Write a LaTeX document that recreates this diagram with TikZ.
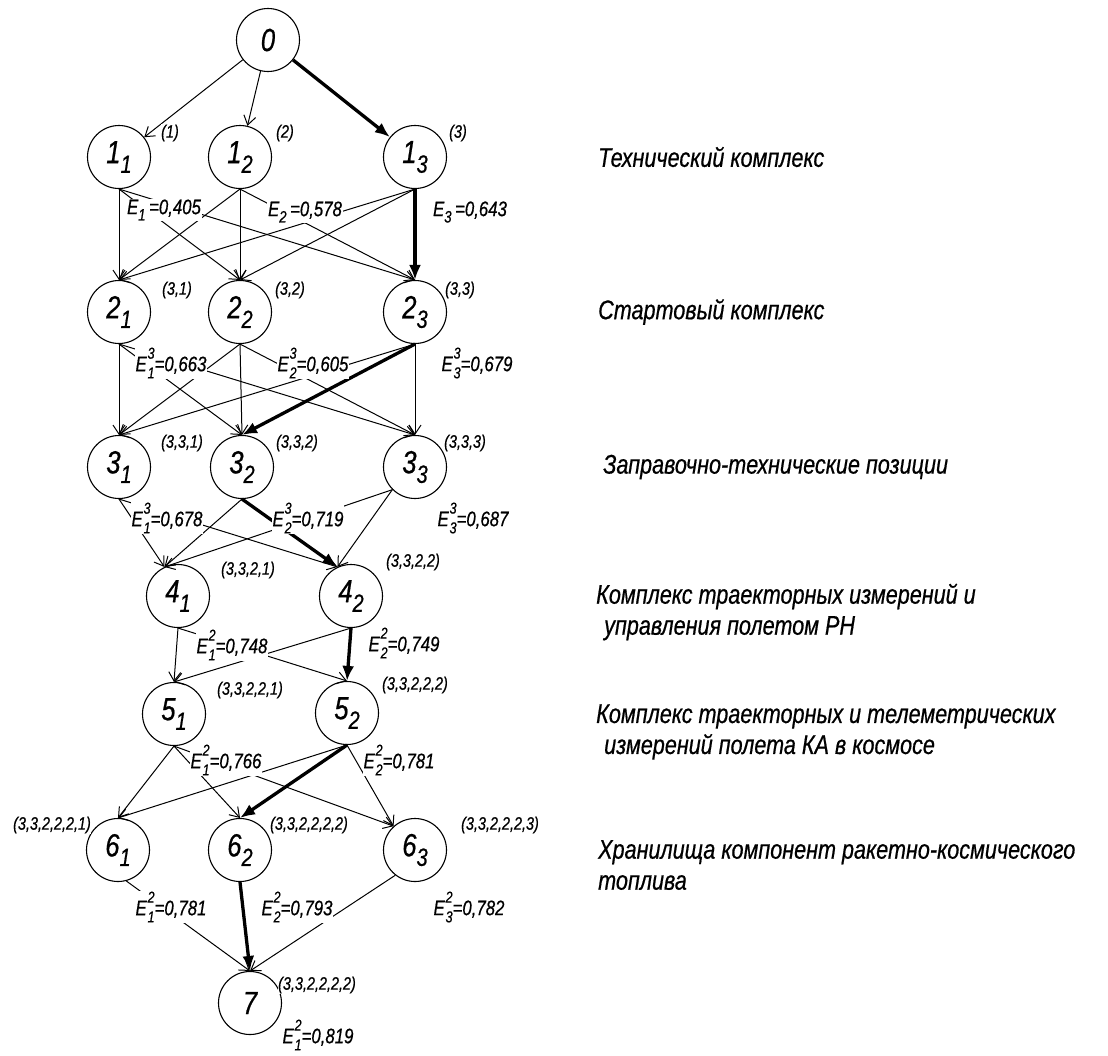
\documentclass[tikz,border=0pt]{standalone}
\usepackage{fontspec}
\usepackage{graphicx}
\setmainfont{Liberation Sans}
\newfontfamily\gost[FakeStretch=0.8,FakeBold=0.6]{Liberation Sans}
\usetikzlibrary{arrows.meta}
\newcommand{\nsub}[1]{\raisebox{-0.3em}{\scalebox{0.78}{#1}}}
\newcommand{\Eud}[2]{E\kern0.04em\rlap{\raisebox{0.6em}{\scalebox{0.75}{#1}}}\raisebox{-0.34em}{\scalebox{0.75}{#2}}}
\begin{document}
\begin{tikzpicture}[x=1pt,y=-1pt,
  vert/.style={circle,draw,line width=1.1pt,minimum size=63pt,inner sep=0pt,
    font=\gost\itshape\fontsize{32}{32}\selectfont},
  tup/.style={font=\gost\itshape\fontsize{18}{18}\selectfont,inner sep=0.5pt,fill=white},
  elab/.style={font=\gost\itshape\fontsize{21}{21}\selectfont,inner sep=1pt,fill=white},
  cat/.style={anchor=west,align=left,inner sep=0pt,
    font=\gost\itshape\fontsize{27}{31}\selectfont},
  edge/.style={line width=1pt,-{Straight Barb[length=9pt,width=12pt]}},
  best/.style={line width=3.3pt,-{Latex[length=15pt,width=12pt]}}
]
\useasboundingbox (0,0) rectangle (1108,1055);
% vertices
\node[vert] (n0) at (268,40) {0};
\node[vert] (n11) at (119,157) {1\nsub{1}};
\node[vert] (n12) at (240,157) {1\nsub{2}};
\node[vert] (n13) at (415,157) {1\nsub{3}};
\node[vert] (n21) at (119,312) {2\nsub{1}};
\node[vert] (n22) at (240,312) {2\nsub{2}};
\node[vert] (n23) at (415,312) {2\nsub{3}};
\node[vert] (n31) at (119,467) {3\nsub{1}};
\node[vert] (n32) at (242,467) {3\nsub{2}};
\node[vert] (n33) at (415,467) {3\nsub{3}};
\node[vert] (n41) at (178,596) {4\nsub{1}};
\node[vert] (n42) at (351,596) {4\nsub{2}};
\node[vert] (n51) at (174,714) {5\nsub{1}};
\node[vert] (n52) at (347,713) {5\nsub{2}};
\node[vert] (n61) at (118,850) {6\nsub{1}};
\node[vert] (n62) at (240,850) {6\nsub{2}};
\node[vert] (n63) at (415,850) {6\nsub{3}};
\node[vert] (n7) at (250,1003) {7};
% edges 0 -> 1
\draw[edge] (n0) -- (n11);
\draw[edge] (n0) -- (n12);
% 1 -> 2
\foreach \a in {n11,n12,n13}{\foreach \b in {n21,n22}{\draw[edge] (\a.south) -- (\b.north);}}
\draw[edge] (n11.south) -- (n23.north);
\draw[edge] (n12.south) -- (n23.north);
% 2 -> 3
\foreach \a in {n21,n22,n23}{\draw[edge] (\a.south) -- (n31.north);}
\draw[edge] (n21.south) -- (n32.north);
\draw[edge] (n22.south) -- (n32.north);
\foreach \a in {n21,n22,n23}{\draw[edge] (\a.south) -- (n33.north);}
% 3 -> 4
\draw[edge] (n31.south) -- (n41.115);
\draw[edge] (n32.south) -- (n41.115);
\draw[edge] (n33.-135) -- (n41.115);
\draw[edge] (n31.south) -- (n42.115);
\draw[edge] (n33.-135) -- (n42.115);
% 4 -> 5
\draw[edge] (n41.south) -- (n51.north);
\draw[edge] (n42.south) -- (n51.north);
\draw[edge] (n41.south) -- (n52.north);
% 5 -> 6
\draw[edge] (n51.south) -- (n61.north);
\draw[edge] (n52.south) -- (n61.north);
\draw[edge] (n51.south) -- (n62.north);
\draw[edge] (n51.south) -- (n63.132);
\draw[edge] (n52.south) -- (n63.132);
% 6 -> 7
\draw[edge] (n61.-75) -- (n7.north);
\draw[edge] (n63.-128) -- (n7.north);
% best path
\draw[best] (n0) -- (n13);
\draw[best] (n13.south) -- (n23.north);
\draw[best] (n23.south) -- (n32.north);
\draw[best] (n32.south) -- (n42.115);
\draw[best] (n42.south) -- (n52.north);
\draw[best] (n52.south) -- (n62.north);
\draw[best] (n62.south) -- (n7.north);
% efficiency labels
\node[elab] (e11) at (164,210) {E\nsub{1}\,=0,405};
\node[elab] (e12) at (305,212) {E\nsub{2}\,=0,578};
\node[elab] (e13) at (470,212) {E\nsub{3}\,=0,643};
\node[elab] (e21) at (171,363) {\Eud{3}{1}=0,663};
\node[elab] (e22) at (313,363) {\Eud{3}{2}=0,605};
\node[elab] (e23) at (477,363) {\Eud{3}{3}=0,679};
\node[elab] (e31) at (167,518) {\Eud{3}{1}=0,678};
\node[elab] (e32) at (308,518) {\Eud{3}{2}=0,719};
\node[elab] (e33) at (473,518) {\Eud{3}{3}=0,687};
\node[elab] (e41) at (232,645) {\Eud{2}{1}=0,748};
\node[elab] (e42) at (404,643) {\Eud{2}{2}=0,749};
\node[elab] (e51) at (226,760) {\Eud{2}{1}=0,766};
\node[elab] (e52) at (399,760) {\Eud{2}{2}=0,781};
\node[elab] (e61) at (171,907) {\Eud{2}{1}=0,781};
\node[elab] (e62) at (297,907) {\Eud{2}{2}=0,793};
\node[elab] (e63) at (469,907) {\Eud{2}{3}=0,782};
\node[elab] (e7) at (318,1035) {\Eud{2}{1}=0,819};
% path labels
\node[tup] (t11) at (170,133) {(1)};
\node[tup] (t12) at (285,133) {(2)};
\node[tup] (t13) at (458,133) {(3)};
\node[tup] (t21) at (177,290) {(3,1)};
\node[tup] (t22) at (290,290) {(3,2)};
\node[tup] (t23) at (460,290) {(3,3)};
\node[tup] (t31) at (182,443) {(3,3,1)};
\node[tup] (t32) at (297,443) {(3,3,2)};
\node[tup] (t33) at (465,443) {(3,3,3)};
\node[tup] (t41) at (248,570) {(3,3,2,1)};
\node[tup] (t42) at (413,562) {(3,3,2,2)};
\node[tup] (t51) at (250,690) {(3,3,2,2,1)};
\node[tup] (t52) at (415,685) {(3,3,2,2,2)};
\node[tup] (t61) at (52,825) {(3,3,2,2,2,1)};
\node[tup] (t62) at (309,825) {(3,3,2,2,2,2)};
\node[tup] (t63) at (500,825) {(3,3,2,2,2,3)};
\node[tup] (t7) at (317,985) {(3,3,2,2,2,2)};
% level captions
\node[cat] (c1) at (598,157) {Технический комплекс};
\node[cat] (c2) at (598,312) {Стартовый комплекс};
\node[cat] (c3) at (603,467) {Заправочно-технические позиции};
\node[cat] (c4) at (596,612) {Комплекс траекторных измерений и\\\hspace*{8pt}управления полетом РН};
\node[cat] (c5) at (596,732) {Комплекс траекторных и телеметрических\\\hspace*{8pt}измерений полета КА в космосе};
\node[cat] (c6) at (598,865) {Хранилища компонент ракетно-космического\\топлива};
\end{tikzpicture}
\end{document}
